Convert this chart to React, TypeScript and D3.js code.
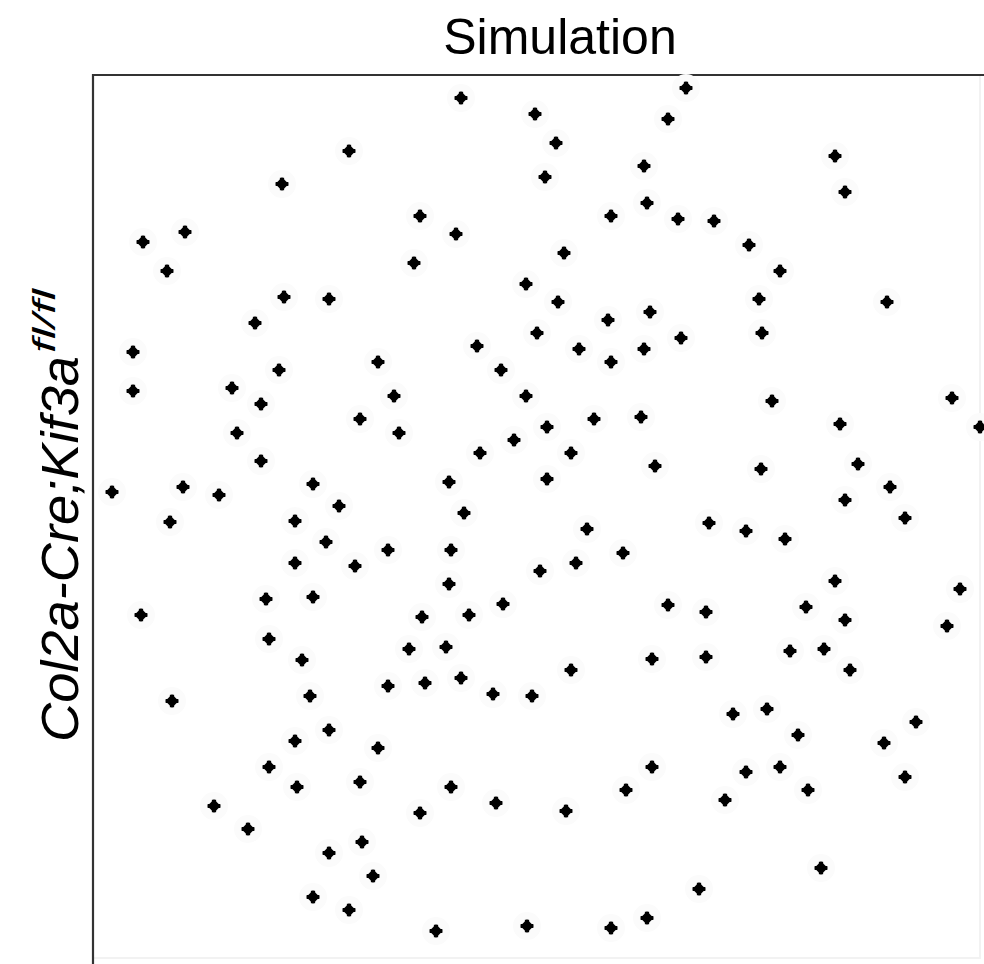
import React, { useEffect, useRef } from "react";
import * as d3 from "d3";

// simulated cell positions (µm), origin top-left of the field
const cellX = [
  183.5, 220.5, 127.5, 94, 163, 181, 45.5, 24.5, 36.5, 160, 216, 95, 117.5, 80.5, 221.5, 19.5, 191.5, 142, 92.5, 203.5,
  19.5, 69, 83.5, 150, 216, 133, 152.5, 71.5, 210, 193, 83.5, 109.5, 177.5, 9, 44.5, 62.5, 122.5, 185, 38, 100.5,
  296, 287, 231, 370.5, 275, 225.5, 375.5, 276.5, 258.5, 292, 310, 327.5, 235, 343, 332.5, 396.5, 232, 278, 257, 334,
  293.5, 242.5, 275, 258.5, 339, 429, 373, 443, 273.5, 250, 226.5, 238.5, 280.5, 333.5, 382, 226.5, 398, 375.5, 405.5, 307.5,
  116, 147, 178.5, 100.5, 130.5, 223, 177.5, 86, 109.5, 204.5, 23.5, 164, 187.5, 87.5, 157.5, 176, 104, 147, 165.5, 183.5,
  199.5, 219, 108, 39, 117.5, 100.5, 142, 87.5, 101.5, 133, 178.5, 201, 60, 163, 77, 134, 117.5, 139.5, 109.5, 127.5,
  171, 216.5, 246.5, 326, 345.5, 264.5, 241, 370.5, 433, 287, 306, 356, 375.5, 426.5, 279, 306, 348, 365, 378, 238.5,
  319.5, 336.5, 352, 411, 395, 279, 326, 343, 266, 357, 315.5, 405.5, 236, 363.5, 302.5, 276.5, 258.5,
];
const cellY = [
  11, 19, 37.5, 54, 70, 79, 78, 83, 97.5, 93.5, 104, 110.5, 111.5, 123.5, 128.5, 138, 135, 143, 147, 147,
  157.5, 156, 164, 160, 160, 171.5, 178.5, 178.5, 182, 188.5, 192.5, 204, 203, 208, 205.5, 209.5, 215, 218.5, 223, 222.5,
  6, 21.5, 33.5, 40, 45, 50.5, 58, 63.5, 70, 71.5, 72.5, 84.5, 88.5, 97.5, 111.5, 113, 113, 118, 122, 128.5,
  131, 136.5, 136.5, 143, 162.5, 161, 174, 175.5, 170.5, 171.5, 175.5, 188.5, 195, 196.5, 194, 201.5, 205.5, 212, 221, 223.5,
  233, 237, 237, 243.5, 245, 247.5, 254, 261.5, 260.5, 264, 269.5, 270.5, 269.5, 281.5, 286.5, 285.5, 292, 305, 303.5, 301,
  309, 310, 310, 312.5, 327, 332.5, 336, 345.5, 355.5, 353, 355.5, 363.5, 365, 368.5, 376.5, 383, 388.5, 400, 410.5, 417,
  427.5, 425, 226.5, 227.5, 231.5, 238.5, 243.5, 252.5, 256.5, 264.5, 268, 265.5, 272, 275, 291.5, 290.5, 287.5, 286.5, 297, 297,
  319, 316.5, 329.5, 323, 333.5, 345.5, 348, 345.5, 357, 357, 362, 350.5, 367.5, 396, 406.5, 421, 426,
];

const title = "Simulation";
const yLabel = "Col2a-Cre;Kif3a";
const yLabelSup = "fl/fl";

const W = 984;
const H = 964;
const font = "'Liberation Sans', Arial, Helvetica, sans-serif";

export default function App() {
  const ref = useRef<SVGSVGElement>(null);

  useEffect(() => {
    const svg = d3.select(ref.current);
    svg.selectAll("*").remove();

    const x = d3.scaleLinear().domain([0, 443]).range([94, 980]);
    const y = d3.scaleLinear().domain([0, 441]).range([76, 958]);

    // faint outer frame (right/bottom edges are barely visible)
    svg
      .append("rect")
      .attr("x", 93)
      .attr("y", 75)
      .attr("width", 887)
      .attr("height", 883)
      .attr("fill", "none")
      .attr("stroke", "#f2f2f2")
      .attr("stroke-width", 2);

    // dark top and left edges
    svg
      .append("path")
      .attr("d", `M93,${H}V75H${W}`)
      .attr("fill", "none")
      .attr("stroke", "#333")
      .attr("stroke-width", 2.2);

    const pts = cellX.map((v, i) => ({ x: v, y: cellY[i] }));

    // very faint speckle halo around each cell
    svg
      .append("g")
      .selectAll("circle")
      .data(pts)
      .join("circle")
      .attr("cx", (d) => x(d.x))
      .attr("cy", (d) => y(d.y))
      .attr("r", 14)
      .attr("fill", "#fbfbfb");

    const diamond = d3.symbol().type(d3.symbolSquare).size(88);
    const cross = d3.symbol().type(d3.symbolCross).size(90);
    const g = svg.append("g");
    g.selectAll("path.dia")
      .data(pts)
      .join("path")
      .attr("class", "dia")
      .attr("d", diamond)
      .attr("transform", (d) => `translate(${x(d.x)},${y(d.y)}) rotate(45)`)
      .attr("fill", "#000");
    g.selectAll("path.crs")
      .data(pts)
      .join("path")
      .attr("class", "crs")
      .attr("d", cross)
      .attr("transform", (d) => `translate(${x(d.x)},${y(d.y)})`)
      .attr("fill", "#000");

    svg
      .append("text")
      .attr("x", 560)
      .attr("y", 54)
      .attr("text-anchor", "middle")
      .attr("font-family", font)
      .attr("font-size", 50)
      .attr("fill", "#000")
      .text(title);

    svg
      .append("text")
      .attr("transform", "translate(78,742) rotate(-90)")
      .attr("font-family", font)
      .attr("font-style", "italic")
      .attr("font-size", 51)
      .attr("textLength", 386)
      .attr("lengthAdjust", "spacingAndGlyphs")
      .attr("fill", "#000")
      .text(yLabel);

    svg
      .append("text")
      .attr("transform", "translate(55,353) rotate(-90)")
      .attr("font-family", font)
      .attr("font-style", "italic")
      .attr("font-size", 32)
      .attr("textLength", 64)
      .attr("lengthAdjust", "spacingAndGlyphs")
      .attr("fill", "#000")
      .text(yLabelSup);
  }, []);

  return (
    <svg
      ref={ref}
      width={W}
      height={H}
      style={{ position: "absolute", left: 0, top: 0, background: "#fff" }}
    />
  );
}
